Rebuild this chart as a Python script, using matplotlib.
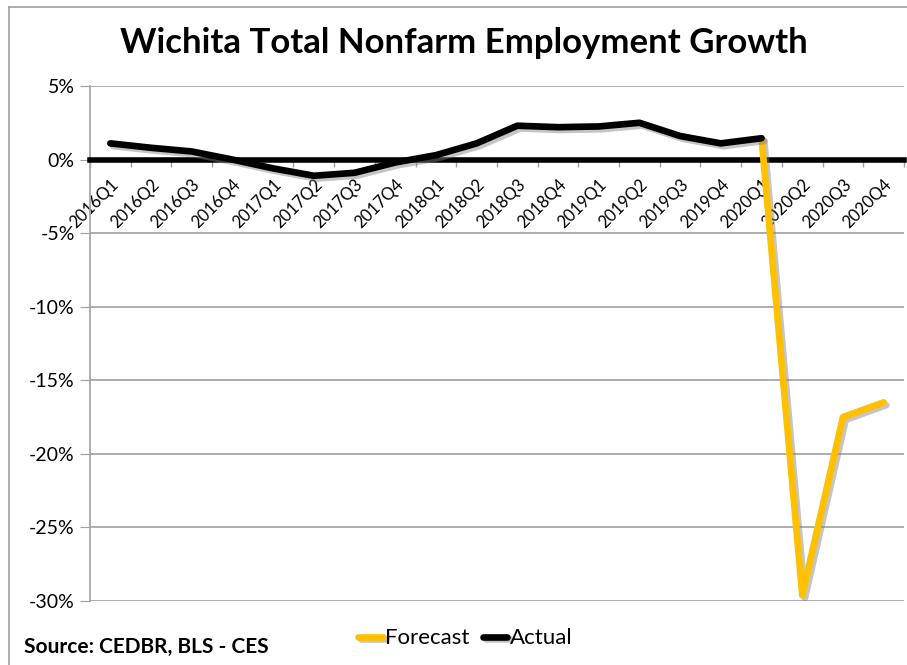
import numpy as np
import matplotlib
matplotlib.use("Agg")
import matplotlib.pyplot as plt
import matplotlib.patheffects as pe
from matplotlib.ticker import FuncFormatter

# ==========================================================
# data (percent growth)
# ==========================================================
quarters = ['2016Q1', '2016Q2', '2016Q3', '2016Q4',
            '2017Q1', '2017Q2', '2017Q3', '2017Q4',
            '2018Q1', '2018Q2', '2018Q3', '2018Q4',
            '2019Q1', '2019Q2', '2019Q3', '2019Q4',
            '2020Q1', '2020Q2', '2020Q3', '2020Q4']
actual = [1.1, 0.8, 0.55, 0.0, -0.6, -1.1, -0.9, -0.2, 0.3, 1.1,
          2.3, 2.2, 2.25, 2.5, 1.6, 1.1, 1.45, None, None, None]
forecast = [None] * 16 + [1.45, -29.6, -17.5, -16.5]

plt.rcParams['font.family'] = ['Lato', 'DejaVu Sans']

act = np.array([np.nan if v is None else v for v in actual])
fc = np.array([np.nan if v is None else v for v in forecast])
x = np.arange(len(quarters))

fig = plt.figure(figsize=(9.07, 6.65), dpi=100)
ax = fig.add_axes([0.0992, 0.0962, 0.8975, 0.7745])

shadow = [pe.SimpleLineShadow(offset=(2, -2), shadow_color='gray', alpha=0.45),
          pe.Normal()]

ax.plot(x, fc, color='#FFC000', lw=4.8, solid_capstyle='round',
        solid_joinstyle='round', label='Forecast', path_effects=shadow,
        zorder=4, clip_on=False)
ax.plot(x, act, color='black', lw=4.8, solid_capstyle='round',
        solid_joinstyle='round', label='Actual', path_effects=shadow, zorder=5)

ax.set_xlim(-0.5, len(quarters) - 0.5)
ax.set_ylim(-30, 5)
ax.set_yticks(np.arange(-30, 6, 5))
ax.yaxis.set_major_formatter(FuncFormatter(lambda v, p: f"{v:.0f}%"))
ax.tick_params(axis='y', labelsize=14, length=7, color='#A0A0A0', pad=4)
ax.grid(True, axis='y', color='#A0A0A0', lw=1.2)
ax.set_axisbelow(True)

# x axis sits on the zero line
ax.spines['bottom'].set_position(('data', 0))
ax.spines['bottom'].set_linewidth(4)
ax.spines['bottom'].set_color('black')
ax.spines['bottom'].set_zorder(3)
ax.spines['top'].set_visible(False)
ax.spines['right'].set_visible(False)
ax.spines['left'].set_color('#A0A0A0')
ax.spines['left'].set_linewidth(1.2)

ax.set_xticks(x)
ax.set_xticklabels(quarters, rotation=45, ha='right', va='top',
                   rotation_mode='anchor', fontsize=12)
ax.set_xticks(np.arange(-0.5, len(quarters)), minor=True)
ax.tick_params(axis='x', which='major', length=0, pad=12)
ax.tick_params(axis='x', which='minor', length=5, color='#A0A0A0', width=1)

# outer frame (left / top edges of chart area)
fig.add_artist(plt.Line2D([0.0099, 0.0099], [0, 0.9895], color='#A0A0A0', lw=1.2))
fig.add_artist(plt.Line2D([0.0099, 1], [0.9895, 0.9895], color='#A0A0A0', lw=1.2))

fig.text(0.511, 0.935, "Wichita Total Nonfarm Employment Growth",
         ha='center', va='center', fontsize=25, fontweight='bold')
fig.text(0.027, 0.012, "Source: CEDBR, BLS - CES", ha='left', va='bottom',
         fontsize=15, fontweight='bold')

fig.legend(loc='center', bbox_to_anchor=(0.513, 0.04), ncol=2, frameon=False,
           fontsize=16, handlelength=1.1, handletextpad=0.1, columnspacing=0.6)

fig.savefig("out.png", dpi=100)
